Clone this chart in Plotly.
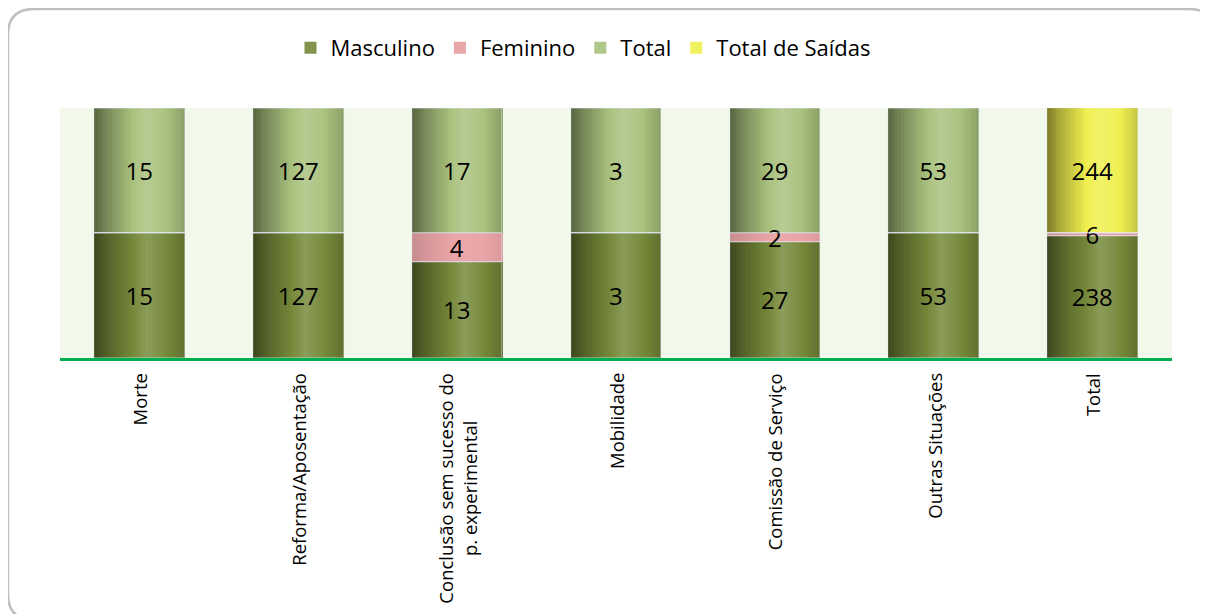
import plotly.graph_objects as go

# data
categories = ["Morte", "Reforma/Aposentação", "Conclusão sem sucesso do<br>p. experimental",
              "Mobilidade", "Comissão de Serviço", "Outras Situações", "Total"]
masculino = [15, 127, 13, 3, 27, 53, 238]
feminino = [0, 0, 4, 0, 2, 0, 6]
total = [15, 127, 17, 3, 29, 53, 0]
total_saidas = [0, 0, 0, 0, 0, 0, 244]

# page has an 8px body margin, so the figure is 8px smaller than the window
W, H = 1200, 606
ML, MR, MT, MB = 52, 36, 100, 256
BAR_W = 0.57
FONT = "Open Sans"

# light profile across the bar (left -> right) to mimic the cylinder look
PROFILE = [(0.0, 0.52), (0.15, 0.72), (0.35, 0.92), (0.58, 1.16), (0.75, 1.05), (1.0, 0.82)]
N_STRIPS = 30


def light_at(t):
    for (t0, f0), (t1, f1) in zip(PROFILE, PROFILE[1:]):
        if t <= t1:
            return f0 + (f1 - f0) * (t - t0) / (t1 - t0)
    return PROFILE[-1][1]


def shade(hexcol, f):
    r, g, b = (int(hexcol[i:i + 2], 16) for i in (1, 3, 5))
    if f <= 1:
        r, g, b = r * f, g * f, b * f
    else:
        t = f - 1
        r, g, b = r + (255 - r) * t, g + (255 - g) * t, b + (255 - b) * t
    return "rgb(%d,%d,%d)" % (min(255, r), min(255, g), min(255, b))


sums = [m + f + t + s for m, f, t, s in zip(masculino, feminino, total, total_saidas)]
# name, values, base colour, shading strength
series = [
    ("Masculino", masculino, "#76893A", 1.0),
    ("Feminino", feminino, "#E9A4A7", 0.3),
    ("Total", total, "#A9C27E", 1.0),
    ("Total de Saídas", total_saidas, "#F0F050", 1.0),
]

fig = go.Figure()
base = [0] * len(categories)
labels = []
for name, vals, col, k in series:
    pct = [v / s * 100 for v, s in zip(vals, sums)]
    for i in range(N_STRIPS):
        f = 1 + (light_at((i + 0.5) / N_STRIPS) - 1) * k
        fig.add_trace(go.Bar(
            x=categories, y=pct, base=base, name=name,
            width=BAR_W / N_STRIPS * 1.05, offset=-BAR_W / 2 + i * BAR_W / N_STRIPS,
            marker=dict(color=shade(col, f), line=dict(width=0)),
            showlegend=(i == N_STRIPS // 2), legendgroup=name, hoverinfo="skip",
        ))
    labels.append((vals, pct, base))
    base = [b + p for b, p in zip(base, pct)]

# transparent full-width bars carrying the value labels, drawn on top
for vals, pct, b in labels:
    fig.add_trace(go.Bar(
        x=categories, y=pct, base=b, width=BAR_W, showlegend=False,
        marker=dict(color="rgba(0,0,0,0)"),
        text=[str(v) if v else "" for v in vals], textposition="inside", textangle=0,
        insidetextanchor="middle", textfont=dict(color="black", size=24, family=FONT),
        hoverinfo="skip",
    ))

# category labels, rotated, with centred lines
for c in categories:
    fig.add_annotation(x=c, y=0, xref="x", yref="paper", yshift=-13,
                       text=c, textangle=-90, showarrow=False, align="center",
                       xanchor="center", yanchor="top", font=dict(size=18.5))

# rounded chart frame (paper coords; right/bottom sides fall outside the picture)
pw, ph = W - ML - MR, H - MB - MT
def px(x): return (x - ML) / pw
def py(y): return (H - MB - y) / ph
x0, x1, y0, y1, r = 0, 1207, 1, 612, 26
path = ("M %f,%f L %f,%f Q %f,%f %f,%f L %f,%f Q %f,%f %f,%f L %f,%f Q %f,%f %f,%f "
        "L %f,%f Q %f,%f %f,%f Z") % (
    px(x0 + r), py(y0), px(x1 - r), py(y0), px(x1), py(y0), px(x1), py(y0 + r),
    px(x1), py(y1 - r), px(x1), py(y1), px(x1 - r), py(y1),
    px(x0 + r), py(y1), px(x0), py(y1), px(x0), py(y1 - r),
    px(x0), py(y0 + r), px(x0), py(y0), px(x0 + r), py(y0))
fig.add_shape(type="path", path=path, xref="paper", yref="paper",
              line=dict(color="#BFBFBF", width=2.5), layer="below")

fig.update_layout(
    width=W, height=H, barmode="overlay", bargap=0,
    margin=dict(l=ML, r=MR, t=MT, b=MB),
    paper_bgcolor="white", plot_bgcolor="#F2F9EA",
    font=dict(family=FONT, color="black"),
    uniformtext=dict(minsize=24, mode="show"),
    legend=dict(orientation="h", xref="container", yref="container",
                x=575 / W, xanchor="center", y=1 - 40 / H, yanchor="middle",
                font=dict(size=22), itemwidth=30, traceorder="normal"),
    xaxis=dict(showline=True, linecolor="#00B050", linewidth=3, showticklabels=False,
               ticks="", showgrid=False),
    yaxis=dict(range=[0, 100], visible=False, showgrid=False),
)

fig.write_html("out.html")
